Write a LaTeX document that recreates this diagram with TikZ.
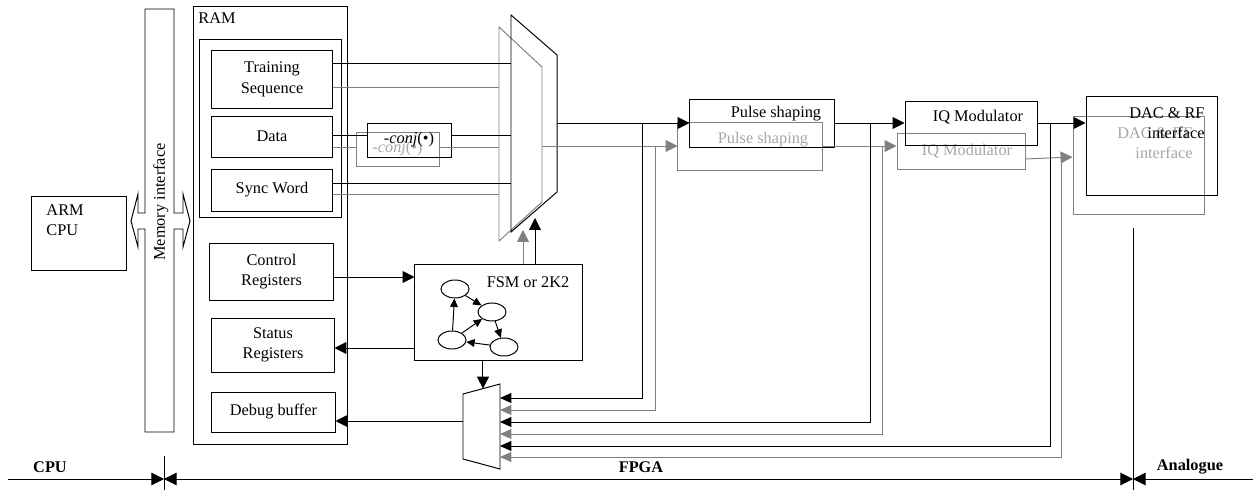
\documentclass[tikz,border=0pt]{standalone}
\usepackage{fontspec}
\setmainfont{Liberation Serif}
\usetikzlibrary{arrows.meta,shapes.geometric}

\begin{document}
\begin{tikzpicture}[
    x=0.025cm, y=-0.025cm,
    font=\fontsize{11.6}{14.6}\selectfont,
    line width=0.7pt,
    blk/.style={draw, inner sep=0pt, align=center},
    gblk/.style={blk, draw=black!50},
    txt/.style={inner sep=0pt, align=center},
    gtxt/.style={txt, text=black!35},
    fsmst/.style={ellipse, draw, minimum width=0.7cm, minimum height=0.45cm, inner sep=0pt},
    sig/.style={-{Triangle[length=8.5pt,width=8.5pt]}},
    gsig/.style={sig, draw=black!50},
    bus/.style={-{Triangle[length=8pt,width=7pt]}},
    gbus/.style={bus, draw=black!50},
    fsmarr/.style={-{Triangle[length=6pt,width=5.5pt]}},
    axarr/.style={-{Triangle[length=9pt,width=9pt]}},
    zone/.style={font=\fontsize{11.6}{14.6}\selectfont\bfseries, inner sep=0pt}
  ]
  \useasboundingbox (0,0) rectangle (1255,492);

  % CPU und Speicherschnittstelle
  \node[blk, minimum width=2.35cm, minimum height=1.825cm] (cpu) at (79,233.5) {};
  \node[txt, anchor=north west, align=left] (cpuT) at (46,204) {ARM\\CPU};

  \draw (145,9) -- (174,9) -- (174,213) -- (183,213) -- (183,194) -- (190,221)
    -- (183,247) -- (183,229) -- (174,229) -- (174,432) -- (145,432) -- (145,229)
    -- (138,229) -- (138,247) -- (131,221) -- (138,194) -- (138,213) -- (145,213) -- cycle;
  \node[txt, rotate=90] (memT) at (161,202) {Memory interface};

  % RAM
  \node[blk, minimum width=3.825cm, minimum height=10.925cm] (ram) at (270.5,225.5) {};
  \node[txt, anchor=north west] (ramT) at (198,12) {RAM};
  \node[blk, minimum width=3.525cm, minimum height=4.425cm] (grp) at (270.5,128.5) {};
  \node[blk, minimum width=3cm, minimum height=1.425cm] (train) at (272,79.5) {Training\\Sequence};
  \node[blk, minimum width=3cm, minimum height=1.025cm] (data) at (272,136.5) {Data};
  \node[blk, minimum width=3cm, minimum height=1.05cm] (sync) at (272,190) {Sync Word};
  \node[blk, minimum width=3.075cm, minimum height=1.425cm] (ctrl) at (271.5,271.5) {Control\\Registers};
  \node[blk, minimum width=3.05cm, minimum height=1.35cm] (stat) at (273,345) {Status\\Registers};
  \node[blk, minimum width=3.075cm, minimum height=1cm] (dbg) at (273.5,412) {Debug buffer};

  % -conj Bloecke
  \node[gblk, minimum width=2.075cm, minimum height=0.85cm, text=black!35] (conjG) at (397.5,149)
    {\textit{-conj}(\textbullet)};
  \node[blk, minimum width=2.1cm, minimum height=0.85cm] (conjB) at (409,140)
    {\textit{-conj}(\textbullet)};

  % Multiplexer oben
  \draw[black!50] (499,27) coordinate (mgTL) -- (542,67) coordinate (mgTR) -- (542,202) -- (499,241) -- cycle;
  \draw (511,15) coordinate (mbTL) -- (557,55) coordinate (mbTR) -- (557,192) -- (511,232) -- cycle;

  \draw[black!50] (train.east |- 0,87) -- (mgTL |- 0,87);
  \draw[black!50] (data.east |- 0,147) -- (conjG.west |- 0,147);
  \draw[black!50] (conjG.east |- 0,147) -- (mgTL |- 0,147);
  \draw[black!50] (sync.east |- 0,194) -- (mgTL |- 0,194);
  \draw (train.east |- 0,63) -- (mbTL |- 0,63);
  \draw (data.east |- 0,135) -- (conjB.west |- 0,135);
  \draw (conjB.east |- 0,135) -- (mbTL |- 0,135);
  \draw (sync.east |- 0,183) -- (mbTL |- 0,183);

  % Sendekette
  \node[gblk, minimum width=3.6cm, minimum height=1.2cm] (gps) at (750,146) {};
  \node[gtxt] (gpsT) at (763,140) {Pulse shaping};
  \node[blk, minimum width=3.6cm, minimum height=1.2cm] (ps) at (762,123) {};
  \node[txt] (psT) at (776,114) {Pulse shaping};

  \node[gblk, minimum width=3.2cm, minimum height=0.9cm] (giq) at (961,151) {};
  \node[gtxt] (giqT) at (967,151) {IQ Modulator};
  \node[blk, minimum width=3.3cm, minimum height=1.1cm] (iq) at (971,123) {};
  \node[txt] (iqT) at (978,117) {IQ Modulator};

  \node[gblk, minimum width=3.275cm, minimum height=2.425cm] (gdac) at (1138.5,165.5) {};
  \node[gtxt, align=right, anchor=east] (gdacT) at (1193,143) {DAC \& RF\\interface};
  \node[blk, minimum width=3.275cm, minimum height=2.45cm] (dac) at (1151.5,146) {};
  \node[txt, align=right, anchor=east] (dacT) at (1205,123) {DAC \& RF\\interface};

  \draw[gsig] (mgTR |- gps.west) -- (gps.west);
  \draw[gsig] (gps.east) -- (giq.west |- gps.east);
  \draw[gsig] (giq.east |- 0,159) -- (gdac.west |- 0,157);
  \draw[sig] (mbTR |- ps.west) -- (ps.west);
  \draw[sig] (ps.east) -- (iq.west);
  \draw[sig] (iq.east) -- (dac.west |- iq.east);

  % FSM
  \node[blk, minimum width=4.175cm, minimum height=2.375cm] (fsm) at (498.5,312.5) {};
  \node[txt] (fsmT) at (528,282) {FSM or 2K2};
  \node[fsmst] (s1) at (455,289) {};
  \node[fsmst] (s2) at (492,312) {};
  \node[fsmst] (s3) at (452,340) {};
  \node[fsmst] (s4) at (504,347) {};
  \draw[fsmarr] (s1) -- (s2);
  \draw[fsmarr] (s2) -- (s4);
  \draw[fsmarr] (s4) -- (s3);
  \draw[fsmarr] (s3) -- (s1);
  \draw[fsmarr] (s3) -- (s2);

  \coordinate (selG) at (523,230);
  \coordinate (selB) at (535,218);
  \draw[gsig] (fsm.north -| selG) -- (selG);
  \draw[sig] (fsm.north -| selB) -- (selB);
  \draw[sig] (ctrl.east |- 0,277) -- (fsm.west |- 0,277);
  \draw[sig] (fsm.west |- 0,348) -- (stat.east |- 0,348);

  % Multiplexer unten (Debug)
  \draw (463,394) coordinate (mxTL) -- (500,384) coordinate (mxTR) -- (500,469) -- (463,459) -- cycle;
  \path (mxTL) -- (mxTR) coordinate[pos=0.54] (selD);
  \draw[sig] (fsm.south -| selD) -- (selD);
  \draw[sig] (mxTL |- 0,421) -- (dbg.east |- 0,421);

  \coordinate (tapB1) at (642,123);
  \coordinate (tapG1) at (655,146);
  \coordinate (tapB2) at (870,123);
  \coordinate (tapG2) at (882,146);
  \coordinate (tapB3) at (1050,123);
  \coordinate (tapG3) at (1061,157.5);
  \draw[bus] (tapB1) |- (mxTR |- 0,398);
  \draw[gbus] (tapG1) |- (mxTR |- 0,410);
  \draw[bus] (tapB2) |- (mxTR |- 0,422);
  \draw[gbus] (tapG2) |- (mxTR |- 0,434);
  \draw[bus] (tapB3) |- (mxTR |- 0,446);
  \draw[gbus] (tapG3) |- (mxTR |- 0,457);

  % Bereiche unten
  \coordinate (cpuEnd) at (164,479);
  \coordinate (anaEnd) at (1133,479);
  \draw (cpuEnd |- 0,456) -- (cpuEnd |- 0,490);
  \draw (anaEnd |- 0,228) -- (anaEnd |- 0,490);
  \draw[axarr] (8,479) -- (cpuEnd);
  \draw[{Triangle[length=9pt,width=9pt]}-{Triangle[length=9pt,width=9pt]}] (cpuEnd) -- (anaEnd);
  \draw[axarr] (1253,479) -- (anaEnd);
  \node[zone] (cpuL) at (50,467) {CPU};
  \node[zone] (fpgaL) at (641,467) {FPGA};
  \node[zone] (anaL) at (1190,467) {Analogue};

\end{tikzpicture}
\end{document}
